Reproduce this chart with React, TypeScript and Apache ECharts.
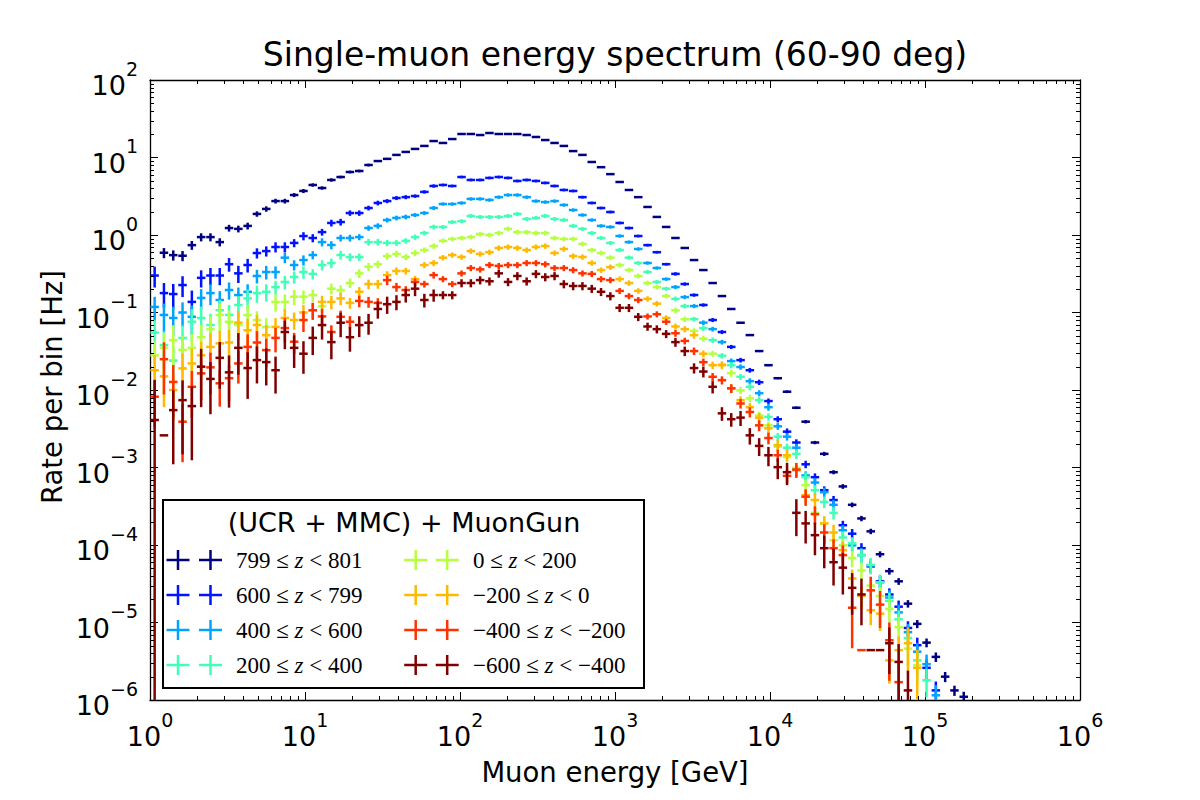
import React, { useEffect, useRef } from "react";
import * as echarts from "echarts";

// 100 logarithmic energy bins from 1 GeV to 1e6 GeV
const LOG_BIN_WIDTH = 0.06;
const binEdges: number[] = Array.from({ length: 101 }, (_, i) => Math.pow(10, i * LOG_BIN_WIDTH));

const seriesColors = ["#000080", "#0012ff", "#00a4ff", "#41ffb6", "#b6ff41", "#ffb900", "#ff3200", "#800000"];
const zLower = ["799", "600", "400", "200", "0", "\u2212200", "\u2212400", "\u2212600"];
const zUpper = ["801", "799", "600", "400", "200", "0", "\u2212200", "\u2212400"];
const legendTitle = "(UCR + MMC) + MuonGun";
const chartTitle = "Single-muon energy spectrum (60-90 deg)";
const xTitle = "Muon energy [GeV]";
const yTitle = "Rate per bin [Hz]";

// rate per bin [Hz], one entry per energy bin (index = bin number)
const rateZ799 = [null, 0.59, 0.55, 0.54, 0.74, 0.94, 0.94, 0.81, 1.23, 1.2,
  1.31, 1.87, 2.17, 2.74, 2.74, 3.28, 3.7, 4.42, 4.04, 5.13,
  5.6, 6.5, 6.7, 8.0, 9.0, 9.6, 10.8, 11.8, 12.9, 14.1,
  16.3, 15.4, 17.3, 20.1, 20.1, 19.5, 20.7, 20.1, 20.1, 20.1,
  19.5, 18.4, 16.8, 15.4, 14.1, 12.1, 10.8, 8.75, 7.5, 6.1,
  4.83, 3.81, 3.08, 2.3, 1.71, 1.27, 0.915, 0.68, 0.475, 0.353,
  0.24, 0.163, 0.111, 0.0738, 0.0511, 0.0318, 0.0209, 0.0142, 0.0095, 0.0059,
  0.0039, 0.0021, 0.0015, 8.7e-4, 5.7e-4, 3.3e-4, 2.2e-4, 1.5e-4, 7.6e-5, 4.6e-5,
  3.4e-5, 1.75e-5, 9.6e-6, 5.5e-6, 3.6e-6, 2.0e-6, 1.33e-6, 1.1e-6];
const errZ799 = [0, 0.15, 0.15, 0.15, 0.13, 0.12, 0.12, 0.12, 0.1, 0.1,
  0.1, 0.08, 0.08, 0.07, 0.07, 0.06, 0.06, 0.05, 0.05, 0.05,
  0.04, 0.04, 0.04, 0.04, 0.03, 0.03, 0.02, 0.02, 0.02, 0.02,
  0.02, 0.02, 0.02, 0.02, 0.02, 0.02, 0.02, 0.02, 0.02, 0.02,
  0.02, 0.02, 0.02, 0.02, 0.02, 0.02, 0.02, 0.02, 0.02, 0.02,
  0.02, 0.02, 0.02, 0.02, 0.02, 0.02, 0.02, 0.02, 0.02, 0.02,
  0.02, 0.02, 0.02, 0.02, 0.02, 0.03, 0.03, 0.03, 0.04, 0.04,
  0.05, 0.05, 0.06, 0.06, 0.07, 0.07, 0.08, 0.08, 0.09, 0.1,
  0.1, 0.11, 0.12, 0.13, 0.14, 0.15, 0.15, 0.16];

const rateZ600 = [0.30, 0.178, 0.173, 0.226, 0.137, 0.28, 0.30, 0.30, 0.42, 0.32,
  0.41, 0.585, 0.62, 0.70, 0.70, 0.79, 0.97, 0.915, 1.09, 1.43,
  1.47, 1.92, 1.92, 2.23, 2.59, 2.74, 3.0, 3.08, 3.18, 3.6,
  4.29, 4.42, 4.29, 5.6, 5.13, 5.13, 5.45, 5.6, 5.45, 4.98,
  5.13, 4.98, 4.7, 4.29, 3.81, 3.7, 3.08, 2.59, 2.23, 1.98,
  1.43, 1.23, 0.97, 0.74, 0.60, 0.42, 0.315, 0.233, 0.168, 0.125,
  0.080, 0.056, 0.036, 0.0243, 0.018, 0.0126, 0.0072, 0.0042, 0.0029, 0.0021,
  0.0011, 7.5e-4, 5.1e-4, 3.8e-4, 1.8e-4, 1.4e-4, 9.1e-5, 5.3e-5, 3.4e-5, 2.3e-5,
  1.6e-5, 8.5e-6, 5.1e-6, 2.6e-6, 1.33e-6];
const errZ600 = [0.3, 0.35, 0.35, 0.3, 0.4, 0.25, 0.25, 0.25, 0.2, 0.25,
  0.2, 0.15, 0.15, 0.15, 0.15, 0.12, 0.12, 0.12, 0.1, 0.1,
  0.1, 0.08, 0.08, 0.07, 0.07, 0.06, 0.06, 0.06, 0.05, 0.05,
  0.05, 0.04, 0.04, 0.04, 0.04, 0.04, 0.04, 0.04, 0.04, 0.04,
  0.04, 0.04, 0.04, 0.04, 0.04, 0.04, 0.04, 0.04, 0.04, 0.04,
  0.04, 0.04, 0.04, 0.04, 0.04, 0.04, 0.05, 0.05, 0.05, 0.05,
  0.06, 0.06, 0.06, 0.07, 0.07, 0.08, 0.08, 0.09, 0.1, 0.1,
  0.11, 0.12, 0.12, 0.13, 0.14, 0.15, 0.16, 0.17, 0.18, 0.2,
  0.2, 0.22, 0.25, 0.28, 0.3];

const rateZ400 = [0.118, 0.093, 0.085, 0.10, 0.088, 0.154, 0.178, 0.145, 0.195, 0.168,
  0.185, 0.296, 0.333, 0.333, 0.51, 0.41, 0.475, 0.552, 0.81, 0.743,
  0.915, 0.915, 0.94, 1.23, 1.31, 1.56, 1.66, 1.71, 1.81, 1.92,
  2.23, 2.51, 2.51, 2.59, 2.92, 2.92, 2.83, 3.08, 3.28, 3.28,
  3.08, 2.74, 2.66, 2.74, 2.44, 2.10, 1.81, 1.56, 1.31, 1.27,
  0.97, 0.81, 0.66, 0.435, 0.375, 0.27, 0.213, 0.158, 0.121, 0.074,
  0.061, 0.0415, 0.0236, 0.0198, 0.013, 0.0091, 0.006, 0.0034, 0.0025, 0.0018,
  7.9e-4, 6.4e-4, 4.8e-4, 3.3e-4, 1.55e-4, 9.9e-5, 7.4e-5, 5.5e-5, 3.3e-5, 2.1e-5,
  1.35e-5, 7.5e-6, 4.2e-6, 2.9e-6, 1.15e-6];
const errZ400 = [0.35, 0.4, 0.4, 0.35, 0.4, 0.3, 0.3, 0.3, 0.25, 0.25,
  0.25, 0.2, 0.2, 0.18, 0.15, 0.15, 0.15, 0.12, 0.12, 0.12,
  0.1, 0.1, 0.09, 0.08, 0.08, 0.07, 0.07, 0.07, 0.06, 0.06,
  0.06, 0.05, 0.05, 0.05, 0.05, 0.05, 0.05, 0.05, 0.05, 0.05,
  0.05, 0.05, 0.05, 0.05, 0.05, 0.05, 0.05, 0.05, 0.05, 0.05,
  0.05, 0.05, 0.05, 0.05, 0.05, 0.05, 0.06, 0.06, 0.06, 0.07,
  0.07, 0.07, 0.08, 0.08, 0.09, 0.09, 0.1, 0.1, 0.11, 0.12,
  0.13, 0.14, 0.15, 0.16, 0.17, 0.18, 0.2, 0.2, 0.22, 0.24,
  0.26, 0.28, 0.3, 0.33, 0.35];

const rateZ200 = [0.055, 0.038, 0.024, 0.047, 0.076, 0.085, 0.069, 0.107, 0.093, 0.125,
  0.152, 0.178, 0.185, 0.213, 0.248, 0.287, 0.333, 0.315, 0.41, 0.435,
  0.552, 0.52, 0.52, 0.81, 0.81, 0.79, 0.79, 0.84, 0.94, 1.06,
  1.27, 1.27, 1.47, 1.51, 1.76, 1.71, 1.71, 1.71, 1.76, 1.87,
  1.61, 1.66, 1.76, 1.61, 1.56, 1.31, 1.20, 1.06, 0.915, 0.79,
  0.64, 0.51, 0.435, 0.333, 0.248, 0.203, 0.15, 0.121, 0.082, 0.063,
  0.044, 0.0277, 0.0209, 0.0148, 0.011, 0.0074, 0.0045, 0.0025, 0.0018, 0.0015,
  7.5e-4, 5.1e-4, 3.6e-4, 2.6e-4, 1.25e-4, 1.05e-4, 7.4e-5, 5.5e-5, 3.3e-5, 1.9e-5,
  1.1e-5, 6.3e-6, 3.25e-6, 1.8e-6];
const errZ200 = [0.45, 0.5, 0.5, 0.45, 0.45, 0.4, 0.4, 0.35, 0.35, 0.3,
  0.3, 0.25, 0.25, 0.2, 0.2, 0.18, 0.18, 0.15, 0.15, 0.14,
  0.13, 0.12, 0.11, 0.1, 0.1, 0.09, 0.09, 0.08, 0.08, 0.07,
  0.07, 0.06, 0.06, 0.06, 0.06, 0.06, 0.06, 0.06, 0.06, 0.06,
  0.06, 0.06, 0.06, 0.06, 0.06, 0.06, 0.06, 0.06, 0.06, 0.06,
  0.06, 0.06, 0.06, 0.06, 0.06, 0.06, 0.07, 0.07, 0.07, 0.08,
  0.08, 0.08, 0.09, 0.09, 0.1, 0.1, 0.11, 0.12, 0.13, 0.14,
  0.15, 0.16, 0.17, 0.18, 0.2, 0.2, 0.22, 0.24, 0.26, 0.28,
  0.3, 0.33, 0.36, 0.4];

const rateZ0 = [0.028, 0.035, 0.044, 0.033, 0.035, 0.048, 0.061, 0.093, 0.076, 0.069,
  0.093, 0.080, 0.065, 0.137, 0.137, 0.16, 0.16, 0.168, 0.121, 0.203,
  0.195, 0.24, 0.32, 0.39, 0.42, 0.535, 0.57, 0.52, 0.585, 0.64,
  0.72, 0.84, 0.89, 0.915, 0.94, 1.03, 1.0, 1.06, 1.20, 1.09,
  1.09, 1.06, 1.06, 0.915, 0.89, 0.89, 0.765, 0.64, 0.585, 0.51,
  0.41, 0.353, 0.296, 0.24, 0.213, 0.163, 0.107, 0.082, 0.058, 0.046,
  0.0294, 0.0214, 0.0165, 0.0099, 0.0078, 0.0047, 0.0035, 0.00185, 0.00136, 9.9e-4,
  5.9e-4, 2.6e-4, 1.9e-4, 1.15e-4, 9.9e-5, 6.8e-5, 4.7e-5, 3.0e-5, 2.2e-5, 1.5e-5,
  8.7e-6, 4.6e-6, 2.8e-6];
const errZ0 = [0.5, 0.55, 0.55, 0.5, 0.5, 0.45, 0.45, 0.4, 0.4, 0.35,
  0.35, 0.3, 0.3, 0.25, 0.25, 0.22, 0.2, 0.18, 0.18, 0.16,
  0.15, 0.14, 0.13, 0.12, 0.11, 0.1, 0.1, 0.09, 0.09, 0.08,
  0.08, 0.07, 0.07, 0.07, 0.07, 0.07, 0.07, 0.07, 0.07, 0.07,
  0.07, 0.07, 0.07, 0.07, 0.07, 0.07, 0.07, 0.07, 0.07, 0.07,
  0.07, 0.07, 0.07, 0.07, 0.07, 0.07, 0.08, 0.08, 0.08, 0.09,
  0.09, 0.1, 0.1, 0.11, 0.11, 0.12, 0.12, 0.13, 0.14, 0.15,
  0.16, 0.18, 0.2, 0.2, 0.22, 0.24, 0.26, 0.28, 0.3, 0.33,
  0.36, 0.4, 0.45];

const rateZm200 = [0.018, 0.015, 0.010, 0.019, 0.022, 0.028, 0.036, 0.040, 0.041, 0.074,
  0.059, 0.069, 0.051, 0.065, 0.085, 0.080, 0.10, 0.107, 0.137, 0.137,
  0.152, 0.133, 0.185, 0.233, 0.233, 0.304, 0.343, 0.343, 0.27, 0.41,
  0.435, 0.51, 0.552, 0.52, 0.62, 0.57, 0.60, 0.68, 0.70, 0.68,
  0.64, 0.70, 0.72, 0.585, 0.66, 0.535, 0.52, 0.435, 0.353, 0.385,
  0.27, 0.24, 0.19, 0.15, 0.13, 0.085, 0.066, 0.061, 0.051, 0.0294,
  0.0209, 0.0209, 0.0105, 0.0074, 0.006, 0.0044, 0.0032, 0.00194, 0.00144, 9.2e-4,
  4.4e-4, 3.8e-4, 1.9e-4, 1.45e-4, 8.6e-5, 3.7e-5, 2.2e-5, 1.44e-5, 1.3e-5, 3.25e-6,
  4.4e-6, 5.4e-6, 2.6e-6];
const errZm200 = [0.55, 0.6, 0.6, 0.55, 0.55, 0.5, 0.5, 0.45, 0.45, 0.4,
  0.4, 0.35, 0.35, 0.3, 0.3, 0.25, 0.25, 0.22, 0.2, 0.2,
  0.18, 0.16, 0.15, 0.14, 0.13, 0.12, 0.11, 0.1, 0.1, 0.09,
  0.09, 0.08, 0.08, 0.08, 0.08, 0.08, 0.08, 0.08, 0.08, 0.08,
  0.08, 0.08, 0.08, 0.08, 0.08, 0.08, 0.08, 0.08, 0.08, 0.08,
  0.08, 0.08, 0.08, 0.08, 0.08, 0.08, 0.09, 0.09, 0.1, 0.1,
  0.11, 0.11, 0.12, 0.12, 0.13, 0.14, 0.15, 0.16, 0.17, 0.18,
  0.2, 0.22, 0.24, 0.26, 0.28, 0.3, 0.33, 0.36, 0.4, 0.5,
  0.5, 0.6, 0.7];

const rateZm400 = [0.0082, 0.025, 0.0127, 0.0039, 0.011, 0.0164, 0.0196, 0.0122, 0.0142, 0.022,
  0.036, 0.041, 0.0327, 0.047, 0.063, 0.042, 0.080, 0.107, 0.089, 0.056,
  0.088, 0.076, 0.141, 0.137, 0.133, 0.262, 0.213, 0.195, 0.248, 0.233,
  0.304, 0.27, 0.233, 0.32, 0.375, 0.36, 0.41, 0.40, 0.41, 0.41,
  0.435, 0.435, 0.42, 0.375, 0.375, 0.353, 0.32, 0.315, 0.27, 0.262,
  0.19, 0.163, 0.145, 0.089, 0.095, 0.076, 0.054, 0.043, 0.0318, 0.0229,
  0.0148, 0.0134, 0.0105, 0.0067, 0.0052, 0.0035, 0.0024, 0.00144, 7.8e-4, 9.4e-4,
  4.2e-4, 2.5e-4, 1.45e-4, 9.1e-5, 7.4e-5, 1.55e-5, 4.4e-6, 2.6e-5, 1.7e-5, 5.9e-6,
  1.7e-6];
const errZm400 = [0.6, 0.65, 0.65, 0.7, 0.6, 0.55, 0.55, 0.5, 0.5, 0.45,
  0.45, 0.4, 0.4, 0.35, 0.35, 0.3, 0.3, 0.25, 0.25, 0.22,
  0.2, 0.18, 0.17, 0.16, 0.15, 0.14, 0.13, 0.12, 0.11, 0.1,
  0.1, 0.09, 0.09, 0.09, 0.09, 0.09, 0.09, 0.09, 0.09, 0.09,
  0.09, 0.09, 0.09, 0.09, 0.09, 0.09, 0.09, 0.09, 0.09, 0.09,
  0.09, 0.09, 0.09, 0.09, 0.09, 0.09, 0.1, 0.1, 0.11, 0.11,
  0.12, 0.12, 0.13, 0.14, 0.15, 0.16, 0.17, 0.18, 0.2, 0.22,
  0.24, 0.26, 0.28, 0.3, 0.33, 0.7, 0, 0.5, 0.5, 0.7,
  0.8];

const rateZm600 = [0.0041, 0.0026, 0.0055, 0.0074, 0.0062, 0.020, 0.0139, 0.026, 0.0169, 0.035,
  0.0192, 0.0243, 0.0229, 0.018, 0.056, 0.035, 0.0294, 0.047, 0.0688, 0.0415,
  0.0738, 0.048, 0.0688, 0.0738, 0.111, 0.128, 0.137, 0.168, 0.203, 0.145,
  0.168, 0.168, 0.168, 0.24, 0.24, 0.262, 0.253, 0.32, 0.248, 0.296,
  0.253, 0.315, 0.287, 0.296, 0.233, 0.22, 0.22, 0.203, 0.185, 0.163,
  0.115, 0.115, 0.088, 0.066, 0.061, 0.053, 0.0415, 0.0318, 0.0192, 0.0173,
  0.011, 0.005, 0.0042, 0.0044, 0.0026, 0.0019, 0.00144, 0.00101, 8.7e-4, 2.6e-4,
  1.9e-4, 1.34e-4, 9.1e-5, 6.0e-5, 5.1e-5, 2.8e-5, 2.3e-5, 4.4e-6, 4.4e-6, 5.4e-6,
  3.1e-6, 1.33e-6];
const errZm600 = [2.3, 0, 0.8, 0.8, 0.8, 0.7, 0.65, 0.6, 0.65, 0.55,
  0.6, 0.5, 0.5, 0.5, 0.4, 0.45, 0.45, 0.4, 0.35, 0.4,
  0.35, 0.35, 0.3, 0.3, 0.25, 0.25, 0.22, 0.2, 0.2, 0.2,
  0.18, 0.12, 0.12, 0.12, 0.12, 0.12, 0.12, 0.12, 0.12, 0.12,
  0.12, 0.12, 0.12, 0.12, 0.12, 0.12, 0.12, 0.12, 0.12, 0.12,
  0.12, 0.12, 0.12, 0.12, 0.12, 0.12, 0.13, 0.14, 0.15, 0.16,
  0.18, 0.2, 0.2, 0.22, 0.24, 0.26, 0.28, 0.3, 0.32, 0.5,
  0.45, 0.45, 0.45, 0.5, 0.55, 0.55, 0.6, 0, 0, 0.6,
  0.7, 0.8];

const rates = [rateZ799, rateZ600, rateZ400, rateZ200, rateZ0, rateZm200, rateZm400, rateZm600];
const errors = [errZ799, errZ600, errZ400, errZ200, errZ0, errZm200, errZm400, errZm600];

const FONT = "DejaVu Sans";
const MATH_FONT = "Liberation Serif";
const LW = 2.5;

function tickLabel(v: number) {
  const e = Math.round(Math.log10(v));
  return `{b|10}{s|${e < 0 ? "\u2212" : ""}${Math.abs(e)}}`;
}
const tickRich = {
  b: { fontSize: 27, fontFamily: FONT, color: "#000", lineHeight: 40, verticalAlign: "bottom" },
  s: { fontSize: 19, fontFamily: FONT, color: "#000", lineHeight: 20, verticalAlign: "top" },
};

function buildOption() {
  const series: any[] = rates.map((vals, s) => {
    const color = seriesColors[s];
    const errs = errors[s];
    const data: any[] = [];
    vals.forEach((v, i) => {
      if (v == null) return;
      data.push([Math.sqrt(binEdges[i] * binEdges[i + 1]), v, i, errs[i] ?? 0]);
    });
    return {
      type: "custom",
      name: `${zLower[s]} ≤ z < ${zUpper[s]}`,
      xAxisIndex: 0,
      yAxisIndex: 0,
      clip: true,
      silent: true,
      z: 2 + s,
      encode: { x: 0, y: 1 },
      data,
      renderItem: (params: any, api: any) => {
        const cs = params.coordSys;
        const xc = api.value(0);
        const v = api.value(1);
        const i = api.value(2);
        const r = api.value(3);
        const pL = api.coord([binEdges[i], v]);
        const pR = api.coord([binEdges[i + 1], v]);
        const pC = api.coord([xc, v]);
        const top = cs.y;
        const bottom = cs.y + cs.height;
        const children: any[] = [
          {
            type: "line",
            shape: { x1: pL[0] + 0.4, y1: pC[1], x2: pR[0] - 0.4, y2: pC[1] },
            style: { stroke: color, lineWidth: LW },
          },
        ];
        if (r > 0) {
          const up = api.coord([xc, v * (1 + r)])[1];
          const lowV = v * (1 - r);
          const dn = lowV > 0 ? api.coord([xc, lowV])[1] : bottom;
          children.push({
            type: "line",
            shape: { x1: pC[0], y1: Math.max(up, top), x2: pC[0], y2: Math.min(dn, bottom) },
            style: { stroke: color, lineWidth: LW },
          });
        }
        return { type: "group", children };
      },
    };
  });

  // minor ticks (2..9 x 10^n) on all four sides
  const minorData: any[] = [];
  for (let d = 0; d < 6; d++) for (let k = 2; k <= 9; k++) minorData.push([k * Math.pow(10, d), 1, 0]);
  for (let d = -6; d < 2; d++) for (let k = 2; k <= 9; k++) minorData.push([1, k * Math.pow(10, d), 1]);
  series.push({
    type: "custom",
    silent: true,
    z: 20,
    encode: { x: 0, y: 1 },
    data: minorData,
    renderItem: (params: any, api: any) => {
      const cs = params.coordSys;
      const kind = api.value(2);
      const st = { stroke: "#000", lineWidth: 1 };
      if (kind === 0) {
        const x = Math.round(api.coord([api.value(0), 1])[0]) + 0.5;
        return {
          type: "group",
          children: [
            { type: "line", shape: { x1: x, y1: cs.y + cs.height, x2: x, y2: cs.y + cs.height - 4 }, style: st },
            { type: "line", shape: { x1: x, y1: cs.y, x2: x, y2: cs.y + 4 }, style: st },
          ],
        };
      }
      const y = Math.round(api.coord([1, api.value(1)])[1]) + 0.5;
      return {
        type: "group",
        children: [
          { type: "line", shape: { x1: cs.x, y1: y, x2: cs.x + 4, y2: y }, style: st },
          { type: "line", shape: { x1: cs.x + cs.width, y1: y, x2: cs.x + cs.width - 4, y2: y }, style: st },
        ],
      };
    },
  });

  const axisLine = { show: true, onZero: false, lineStyle: { color: "#000", width: 1.3 } };
  const axisTick = { show: true, inside: true, length: 8, lineStyle: { color: "#000", width: 1 } };

  // legend drawn as graphic
  const lg: any[] = [];
  lg.push({
    type: "rect",
    shape: { x: 163, y: 500, width: 481, height: 188 },
    style: { fill: "#fff", stroke: "#000", lineWidth: 2 },
    z: 100,
  });
  lg.push({
    type: "text",
    x: 404,
    y: 522,
    z: 101,
    style: { text: legendTitle, fontFamily: FONT, fontSize: 27, fill: "#000", align: "center", verticalAlign: "middle", textAlign: "center", textVerticalAlign: "middle" },
  });
  const rowY = [560, 595, 630, 665];
  const colCross = [[178, 210.5], [415.7, 447.2]];
  const colText = [236, 473];
  for (let s = 0; s < 8; s++) {
    const col = s < 4 ? 0 : 1;
    const y = rowY[s % 4];
    for (const cx of colCross[col]) {
      lg.push({ type: "line", z: 101, shape: { x1: cx - 11.5, y1: y, x2: cx + 11.5, y2: y }, style: { stroke: seriesColors[s], lineWidth: LW } });
      lg.push({ type: "line", z: 101, shape: { x1: cx, y1: y - 10, x2: cx, y2: y + 10 }, style: { stroke: seriesColors[s], lineWidth: LW } });
    }
    lg.push({
      type: "text",
      x: colText[col],
      y,
      z: 101,
      style: {
        text: `{n|${zLower[s]}} {n|≤} {i|z} {n|<} {n|${zUpper[s]}}`,
        rich: {
          n: { fontFamily: MATH_FONT, fontSize: 23, fill: "#000", color: "#000" },
          i: { fontFamily: MATH_FONT, fontSize: 23, fontStyle: "italic", fill: "#000", color: "#000" },
        },
        fontFamily: MATH_FONT,
        fontSize: 23,
        fill: "#000",
        align: "left",
        verticalAlign: "middle",
        textAlign: "left",
        textVerticalAlign: "middle",
      },
    });
  }

  const texts: any[] = [
    {
      type: "text", x: 615, y: 54, z: 101,
      style: { text: chartTitle, fontFamily: FONT, fontSize: 33, fill: "#000", align: "center", verticalAlign: "middle", textAlign: "center", textVerticalAlign: "middle" },
    },
    {
      type: "text", x: 615, y: 772, z: 101,
      style: { text: xTitle, fontFamily: FONT, fontSize: 27.5, fill: "#000", align: "center", verticalAlign: "middle", textAlign: "center", textVerticalAlign: "middle" },
    },
    {
      type: "text", x: 52, y: 387, rotation: Math.PI / 2, z: 101,
      style: { text: yTitle, fontFamily: FONT, fontSize: 27.5, fill: "#000", align: "center", verticalAlign: "middle", textAlign: "center", textVerticalAlign: "middle" },
    },
  ];

  return {
    animation: false,
    backgroundColor: "#fff",
    textStyle: { fontFamily: FONT },
    grid: { left: 150, right: 120, top: 80, bottom: 100, containLabel: false },
    xAxis: [
      {
        type: "log", logBase: 10, min: 1, max: 1e6, splitNumber: 6, position: "bottom",
        axisLine, axisTick, splitLine: { show: false }, minorTick: { show: false },
        axisLabel: { show: true, interval: 0, margin: 10, formatter: tickLabel, rich: tickRich, color: "#000" },
      },
      {
        type: "log", logBase: 10, min: 1, max: 1e6, splitNumber: 6, position: "top",
        axisLine, axisTick, splitLine: { show: false }, axisLabel: { show: false },
      },
    ],
    yAxis: [
      {
        type: "log", logBase: 10, min: 1e-6, max: 1e2, splitNumber: 8, position: "left",
        axisLine, axisTick, splitLine: { show: false },
        axisLabel: { show: true, interval: 0, margin: 12, formatter: tickLabel, rich: tickRich, color: "#000", padding: [0, 0, 2, 0] },
      },
      {
        type: "log", logBase: 10, min: 1e-6, max: 1e2, splitNumber: 8, position: "right",
        axisLine, axisTick, splitLine: { show: false }, axisLabel: { show: false },
      },
    ],
    series,
    graphic: { elements: [...lg, ...texts] },
  };
}

export default function App() {
  const ref = useRef<HTMLDivElement>(null);
  useEffect(() => {
    if (!ref.current) return;
    const chart = echarts.init(ref.current, undefined, { renderer: "svg" });
    chart.setOption(buildOption() as any);
    return () => chart.dispose();
  }, []);
  return (
    <div
      ref={ref}
      style={{ position: "fixed", left: 0, top: 0, width: 1200, height: 800, background: "#fff" }}
    />
  );
}
